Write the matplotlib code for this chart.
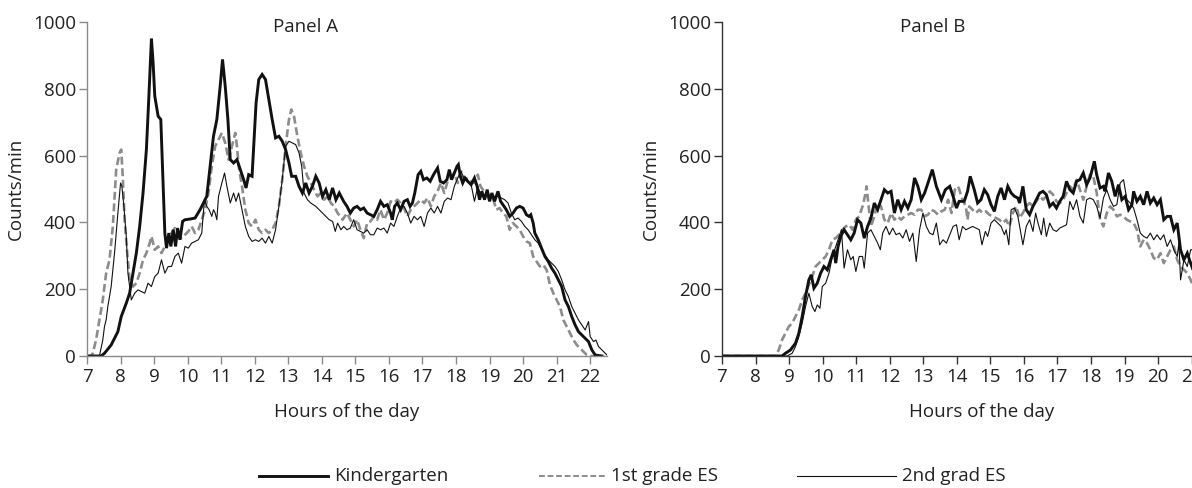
import numpy as np
import matplotlib.pyplot as plt
from matplotlib.lines import Line2D

plt.rcParams['font.family'] = ['Open Sans', 'DejaVu Sans']
plt.rcParams['font.size'] = 13.5

# Panel A (hours of day, counts/min)
a_kg_h = [7.0, 7.42, 7.52, 7.72, 7.92, 8.02, 8.17, 8.27, 8.37, 8.47, 8.57, 8.67, 8.77, 8.84, 8.92, 8.97,
          9.02, 9.12, 9.2, 9.27, 9.32, 9.37, 9.44, 9.5, 9.57, 9.64, 9.7, 9.77, 9.85, 9.92, 10.07, 10.22,
          10.37, 10.47, 10.57, 10.67, 10.77, 10.87, 10.97, 11.04, 11.12, 11.2, 11.27, 11.37, 11.47, 11.57,
          11.67, 11.74, 11.82, 11.92, 11.97, 12.04, 12.12, 12.22, 12.32, 12.42, 12.52, 12.62, 12.72, 12.82,
          12.92, 13.02, 13.1, 13.22, 13.32, 13.42, 13.52, 13.62, 13.72, 13.82, 13.92, 14.02, 14.12, 14.22,
          14.32, 14.42, 14.52, 14.65, 14.75, 14.85, 14.95, 15.05, 15.15, 15.25, 15.35, 15.45, 15.55, 15.65,
          15.75, 15.85, 15.95, 16.05, 16.1, 16.17, 16.25, 16.35, 16.45, 16.55, 16.63, 16.7, 16.77, 16.87,
          16.95, 17.03, 17.13, 17.23, 17.33, 17.45, 17.53, 17.63, 17.73, 17.8, 17.87, 17.95, 18.03, 18.07,
          18.13, 18.2, 18.27, 18.35, 18.45, 18.55, 18.63, 18.7, 18.77, 18.85, 18.93, 19.0, 19.07, 19.15,
          19.25, 19.33, 19.43, 19.5, 19.6, 19.7, 19.8, 19.9, 20.0, 20.1, 20.18, 20.23, 20.3, 20.35, 20.45,
          20.55, 20.65, 20.75, 20.85, 20.95, 21.05, 21.15, 21.25, 21.35, 21.45, 21.55, 21.65, 21.75, 21.85,
          21.95, 22.05, 22.15, 22.35]
a_kg_v = [0, 0, 8, 33, 73, 118, 158, 188, 248, 308, 388, 488, 618, 768, 950, 878,
          778, 718, 708, 508, 368, 323, 368, 328, 378, 328, 383, 348, 403, 408, 410, 413,
          438, 458, 478, 568, 658, 708, 808, 888, 808, 708, 588, 578, 588, 558,
          528, 503, 543, 538, 628, 758, 828, 843, 828, 768, 708, 653, 658, 643,
          618, 578, 538, 538, 508, 488, 518, 488, 508, 538, 518, 478, 498, 468,
          503, 468, 488, 463, 448, 428, 443, 448, 438, 443, 428, 423, 418, 438,
          463, 448, 453, 428, 408, 448, 458, 438, 463, 468, 448, 458, 488, 543,
          553, 528, 533, 523, 543, 563, 523, 518, 528, 558, 528, 548, 568, 573,
          538, 518, 533, 523, 513, 533, 508, 468, 493, 468, 498, 463, 488, 463,
          493, 463, 448, 438, 418, 428, 443, 448, 443, 423, 418, 423, 398, 368, 348,
          323, 298, 283, 263, 248, 228, 208, 168, 148, 118, 93, 73, 63, 53,
          43, 18, 3, 0]

a_g1_h = [7.0, 7.12, 7.17, 7.27, 7.37, 7.47, 7.57, 7.67, 7.77, 7.87, 7.97, 8.02, 8.07, 8.12, 8.2, 8.27,
          8.37, 8.47, 8.57, 8.67, 8.77, 8.87, 8.92, 9.02, 9.12, 9.22, 9.32, 9.42, 9.52, 9.62, 9.72, 9.82,
          9.92, 10.02, 10.12, 10.22, 10.32, 10.42, 10.52, 10.62, 10.72, 10.82, 10.92, 11.02, 11.12, 11.22,
          11.32, 11.42, 11.47, 11.52, 11.62, 11.72, 11.82, 11.92, 12.02, 12.12, 12.22, 12.32, 12.42, 12.52,
          12.62, 12.72, 12.82, 12.92, 13.02, 13.09, 13.17, 13.27, 13.37, 13.47, 13.57, 13.67, 13.77, 13.87,
          13.97, 14.07, 14.17, 14.27, 14.37, 14.47, 14.62, 14.75, 14.85, 14.95, 15.05, 15.15, 15.25, 15.35,
          15.45, 15.55, 15.65, 15.75, 15.85, 15.95, 16.05, 16.15, 16.25, 16.35, 16.45, 16.55, 16.65, 16.75,
          16.85, 16.95, 17.05, 17.15, 17.25, 17.35, 17.45, 17.55, 17.65, 17.75, 17.85, 17.95, 18.05, 18.15,
          18.25, 18.35, 18.45, 18.55, 18.65, 18.73, 18.8, 18.9, 19.0, 19.1, 19.2, 19.3, 19.4, 19.5, 19.6,
          19.7, 19.8, 19.9, 20.0, 20.1, 20.2, 20.3, 20.4, 20.5, 20.6, 20.7, 20.8, 20.9, 21.0, 21.1, 21.2,
          21.3, 21.4, 21.5, 21.6, 21.7, 21.8, 21.9, 22.0, 22.35]
a_g1_v = [0, 0, 8, 48, 108, 168, 248, 288, 388, 558, 608, 618, 528, 408, 308, 228,
          208, 218, 248, 288, 308, 338, 358, 318, 328, 308, 328, 348, 368, 383, 368, 353,
          363, 373, 388, 368, 378, 408, 438, 488, 568, 628, 648, 668, 638, 588,
          628, 668, 628, 568, 508, 438, 398, 388, 408, 378, 368, 378, 368, 378,
          398, 448, 528, 628, 708, 738, 718, 658, 608, 568, 538, 518, 498, 478,
          488, 468, 478, 458, 448, 428, 408, 428, 408, 388, 408, 378, 353, 398,
          403, 418, 408, 438, 408, 428, 463, 458, 468, 458, 443, 418, 438, 448,
          458, 468, 458, 473, 448, 478, 493, 518, 488, 523, 533, 548, 518, 553,
          528, 533, 523, 518, 543, 508, 498, 483, 468, 473, 438, 443, 428, 418, 378,
          398, 388, 378, 358, 343, 338, 298, 283, 268, 273, 258, 213, 188, 168, 148, 108,
          88, 68, 48, 33, 23, 13, 3, 0, 0]

a_g2_h = [7.0, 7.37, 7.47, 7.52, 7.57, 7.62, 7.72, 7.82, 7.92, 8.0, 8.04, 8.1, 8.17, 8.22, 8.32, 8.42,
          8.52, 8.62, 8.72, 8.82, 8.92, 9.02, 9.12, 9.22, 9.32, 9.42, 9.52, 9.62, 9.72, 9.82, 9.92, 10.02,
          10.12, 10.22, 10.32, 10.42, 10.5, 10.57, 10.64, 10.72, 10.77, 10.82, 10.87, 10.92, 11.02, 11.1,
          11.17, 11.27, 11.37, 11.44, 11.52, 11.62, 11.72, 11.82, 11.92, 12.02, 12.12, 12.22, 12.32, 12.42,
          12.52, 12.62, 12.72, 12.82, 12.92, 13.02, 13.12, 13.22, 13.32, 13.4, 13.47, 13.57, 13.67, 13.82,
          13.92, 14.02, 14.12, 14.22, 14.32, 14.4, 14.47, 14.57, 14.65, 14.75, 14.85, 14.95, 15.05, 15.15,
          15.25, 15.35, 15.45, 15.55, 15.65, 15.75, 15.85, 15.95, 16.05, 16.15, 16.25, 16.35, 16.45, 16.55,
          16.65, 16.75, 16.85, 16.95, 17.05, 17.15, 17.25, 17.35, 17.45, 17.55, 17.65, 17.75, 17.85, 17.95,
          18.05, 18.15, 18.25, 18.35, 18.45, 18.55, 18.65, 18.75, 18.85, 18.95, 19.05, 19.15, 19.25, 19.35,
          19.45, 19.55, 19.65, 19.75, 19.85, 19.95, 20.05, 20.15, 20.25, 20.35, 20.45, 20.55, 20.65, 20.75,
          20.85, 20.95, 21.05, 21.15, 21.25, 21.35, 21.45, 21.55, 21.65, 21.75, 21.85, 21.95, 22.0, 22.1,
          22.17, 22.25, 22.4, 22.53]
a_g2_v = [0, 0, 48, 88, 108, 148, 208, 308, 428, 518, 508, 448, 358, 248, 168, 188,
          198, 193, 188, 218, 208, 238, 248, 288, 248, 268, 268, 298, 308, 278, 328, 323,
          338, 343, 348, 368, 468, 448, 438, 418, 438, 428, 408, 478, 518, 548,
          508, 458, 488, 463, 488, 438, 388, 358, 343, 348, 343, 353, 338, 358,
          338, 378, 448, 528, 628, 643, 638, 633, 608, 568, 488, 468, 458, 448,
          438, 428, 418, 408, 403, 373, 398, 378, 388, 378, 383, 408, 378, 373,
          368, 378, 363, 363, 383, 378, 383, 368, 398, 388, 418, 443, 448, 428,
          398, 418, 408, 418, 388, 428, 443, 428, 448, 428, 463, 473, 468, 508,
          533, 553, 528, 523, 513, 463, 508, 478, 483, 488, 473, 478, 478, 473,
          468, 458, 428, 408, 413, 403, 388, 378, 363, 348, 338, 318, 303, 288,
          278, 268, 253, 228, 198, 178, 148, 128, 108, 93, 78, 103, 58, 43,
          48, 28, 13, 0]

# Panel B
b_kg_h = [7.0, 8.79, 8.89, 9.04, 9.19, 9.29, 9.39, 9.49, 9.59, 9.66, 9.74, 9.84, 9.94, 10.04, 10.14, 10.24,
          10.34, 10.39, 10.46, 10.54, 10.64, 10.74, 10.84, 10.94, 11.04, 11.14, 11.24, 11.34, 11.44, 11.54,
          11.64, 11.74, 11.84, 11.94, 12.04, 12.14, 12.24, 12.34, 12.44, 12.54, 12.64, 12.74, 12.84, 12.94,
          13.04, 13.14, 13.27, 13.39, 13.54, 13.66, 13.79, 13.89, 13.99, 14.07, 14.22, 14.32, 14.4, 14.52,
          14.62, 14.72, 14.82, 14.92, 15.02, 15.12, 15.22, 15.32, 15.42, 15.52, 15.62, 15.72, 15.82, 15.87,
          15.97, 16.07, 16.17, 16.27, 16.37, 16.47, 16.57, 16.67, 16.77, 16.87, 16.97, 17.07, 17.17, 17.27,
          17.37, 17.47, 17.57, 17.67, 17.77, 17.87, 17.97, 18.1, 18.17, 18.27, 18.37, 18.42, 18.52, 18.62,
          18.72, 18.82, 18.92, 19.02, 19.12, 19.22, 19.27, 19.37, 19.47, 19.57, 19.67, 19.77, 19.87, 19.97,
          20.07, 20.17, 20.27, 20.37, 20.47, 20.57, 20.67, 20.77, 20.87, 20.97, 21.08]
b_kg_v = [0, 0, 8, 18, 38, 68, 118, 178, 228, 243, 203, 218, 248, 268, 258, 288,
          318, 278, 328, 358, 378, 363, 348, 368, 408, 398, 353, 388, 413, 458,
          438, 468, 498, 488, 493, 428, 468, 438, 463, 443, 468, 533, 508, 468,
          488, 518, 558, 508, 468, 498, 508, 478, 443, 463, 463, 493, 538, 498,
          458, 468, 498, 483, 453, 433, 478, 503, 468, 508, 488, 478, 473, 458,
          508, 438, 423, 448, 468, 488, 493, 483, 448, 458, 443, 463, 478, 523,
          498, 488, 523, 528, 548, 513, 533, 583, 543, 503, 508, 493, 548, 523,
          478, 513, 468, 478, 438, 453, 493, 463, 478, 453, 493, 458, 473, 453,
          468, 408, 418, 418, 378, 398, 318, 288, 308, 278, 248]

b_g1_h = [7.0, 8.59, 8.69, 8.79, 8.89, 8.99, 9.09, 9.19, 9.29, 9.39, 9.49, 9.59, 9.69, 9.79, 9.89, 9.99,
          10.09, 10.19, 10.29, 10.39, 10.49, 10.59, 10.69, 10.79, 10.89, 10.99, 11.09, 11.19, 11.26, 11.31,
          11.36, 11.44, 11.54, 11.64, 11.74, 11.84, 11.94, 12.04, 12.14, 12.24, 12.34, 12.44, 12.54, 12.64,
          12.74, 12.84, 12.94, 13.04, 13.14, 13.24, 13.34, 13.44, 13.54, 13.64, 13.74, 13.84, 13.94, 14.04,
          14.17, 14.27, 14.32, 14.37, 14.47, 14.57, 14.67, 14.77, 14.87, 14.97, 15.07, 15.17, 15.27, 15.37,
          15.47, 15.57, 15.67, 15.77, 15.87, 15.97, 16.07, 16.17, 16.27, 16.37, 16.47, 16.57, 16.67, 16.77,
          16.87, 16.97, 17.07, 17.17, 17.27, 17.37, 17.47, 17.57, 17.67, 17.77, 17.87, 17.97, 18.07, 18.17,
          18.27, 18.37, 18.47, 18.57, 18.67, 18.77, 18.87, 18.97, 19.07, 19.17, 19.27, 19.37, 19.47, 19.57,
          19.67, 19.77, 19.87, 19.97, 20.07, 20.17, 20.27, 20.37, 20.47, 20.57, 20.67, 20.77, 20.87, 20.97,
          21.08]
b_g1_v = [0, 0, 18, 48, 68, 88, 98, 118, 138, 168, 188, 213, 238, 268, 278, 288,
          298, 318, 348, 353, 363, 378, 388, 393, 378, 408, 418, 448, 478, 508,
          458, 388, 418, 458, 448, 408, 398, 428, 408, 418, 408, 418, 423, 428,
          423, 438, 438, 418, 423, 438, 433, 423, 433, 438, 468, 428, 498, 508,
          468, 448, 408, 448, 438, 428, 438, 428, 433, 423, 418, 413, 408, 398,
          408, 388, 428, 448, 413, 428, 448, 458, 448, 463, 478, 468, 478, 493,
          483, 463, 458, 468, 488, 508, 498, 528, 498, 468, 508, 543, 538, 488,
          408, 388, 428, 448, 438, 418, 423, 418, 408, 403, 398, 378, 328, 348,
          338, 318, 293, 288, 308, 278, 298, 318, 328, 288, 268, 258, 248, 228,
          198]

b_g2_h = [7.0, 8.94, 9.09, 9.19, 9.29, 9.39, 9.49, 9.59, 9.69, 9.77, 9.84, 9.92, 9.99, 10.09, 10.19, 10.29,
          10.39, 10.49, 10.56, 10.64, 10.74, 10.84, 10.91, 10.99, 11.09, 11.19, 11.24, 11.34, 11.44, 11.54,
          11.64, 11.72, 11.79, 11.89, 11.99, 12.09, 12.19, 12.29, 12.39, 12.49, 12.59, 12.69, 12.79, 12.89,
          12.99, 13.09, 13.19, 13.29, 13.39, 13.49, 13.59, 13.69, 13.79, 13.89, 13.99, 14.07, 14.17, 14.27,
          14.37, 14.47, 14.57, 14.67, 14.75, 14.85, 14.92, 15.02, 15.12, 15.22, 15.32, 15.42, 15.47, 15.55,
          15.62, 15.72, 15.82, 15.89, 15.97, 16.07, 16.17, 16.27, 16.35, 16.42, 16.52, 16.59, 16.67, 16.77,
          16.87, 16.97, 17.07, 17.17, 17.27, 17.37, 17.47, 17.57, 17.67, 17.77, 17.87, 17.97, 18.07, 18.17,
          18.27, 18.37, 18.47, 18.57, 18.67, 18.77, 18.87, 18.97, 19.07, 19.17, 19.27, 19.37, 19.47, 19.57,
          19.67, 19.77, 19.87, 19.97, 20.07, 20.17, 20.27, 20.37, 20.47, 20.57, 20.62, 20.67, 20.77, 20.87,
          20.97, 21.08]
b_g2_v = [0, 0, 8, 28, 58, 98, 148, 188, 148, 133, 153, 143, 208, 218, 248, 298,
          328, 358, 378, 263, 318, 288, 298, 253, 298, 298, 263, 368, 378, 358,
          338, 318, 368, 388, 363, 383, 363, 368, 353, 378, 343, 368, 283, 378,
          428, 388, 368, 363, 398, 333, 348, 338, 363, 388, 393, 348, 388, 378,
          383, 388, 383, 378, 333, 373, 358, 398, 408, 398, 388, 363, 378, 333,
          438, 443, 418, 378, 333, 388, 408, 373, 428, 398, 363, 413, 358, 398,
          378, 373, 383, 388, 393, 463, 438, 468, 418, 398, 468, 473, 468, 448,
          413, 473, 498, 468, 448, 453, 518, 528, 468, 458, 443, 408, 368, 358,
          353, 368, 348, 363, 348, 363, 328, 348, 318, 298, 338, 228, 288, 268,
          318, 318]

hour_ticks = list(range(7, 23))
count_ticks = [0, 200, 400, 600, 800, 1000]

fig = plt.figure(figsize=(11.92, 4.88), dpi=100)
axA = fig.add_axes([0.073, 0.2705, 0.4362, 0.6844])
axB = fig.add_axes([0.6057, 0.2705, 0.4362, 0.6844])

kg_style = dict(color='#111111', lw=2.1, solid_joinstyle='miter')
g1_style = dict(color='#8c8c8c', lw=1.9, ls=(0, (3.0, 1.4)))
g2_style = dict(color='#111111', lw=0.8)

for ax, data, title, tx, spc in [
        (axA, (a_kg_h, a_kg_v, a_g1_h, a_g1_v, a_g2_h, a_g2_v), 'Panel A', 0.42, '#8a8a8a'),
        (axB, (b_kg_h, b_kg_v, b_g1_h, b_g1_v, b_g2_h, b_g2_v), 'Panel B', 0.405, '#333333')]:
    kh, kv, g1h, g1v, g2h, g2v = data
    ax.plot(g1h, g1v, **g1_style)
    ax.plot(g2h, g2v, **g2_style)
    ax.plot(kh, kv, **kg_style)
    ax.set_xlim(7, 22.5)
    ax.set_ylim(0, 1000)
    ax.set_xticks(hour_ticks)
    ax.set_yticks(count_ticks)
    for s in ['top', 'right']:
        ax.spines[s].set_visible(False)
    for s in ['left', 'bottom']:
        ax.spines[s].set_color(spc)
        ax.spines[s].set_linewidth(1.0)
    ax.tick_params(axis='both', colors=spc, labelcolor='#222222', labelsize=13.5,
                   length=6, width=1.0, pad=2)
    ax.tick_params(axis='x', pad=3)
    ax.set_ylabel('Counts/min', fontsize=13.5, color='#222222', labelpad=6)
    ax.set_xlabel('Hours of the day', fontsize=13.5, color='#222222', labelpad=12)
    ax.text(tx, 1.012, title, transform=ax.transAxes, ha='center', va='top',
            fontsize=13.5, color='#222222')

# legend along the bottom
legend_y = 0.025
legend_items = [('Kindergarten', kg_style, 0.217, 0.275),
                ('1st grade ES', dict(g1_style, lw=1.4), 0.452, 0.508),
                ('2nd grad ES', g2_style, 0.669, 0.752)]
for label, style, x0, x1 in legend_items:
    fig.add_artist(Line2D([x0, x1], [legend_y, legend_y], transform=fig.transFigure, **style))
    fig.text(x1 + 0.005, legend_y, label, ha='left', va='center', fontsize=13.5, color='#222222')

fig.savefig('out.png', dpi=100)
